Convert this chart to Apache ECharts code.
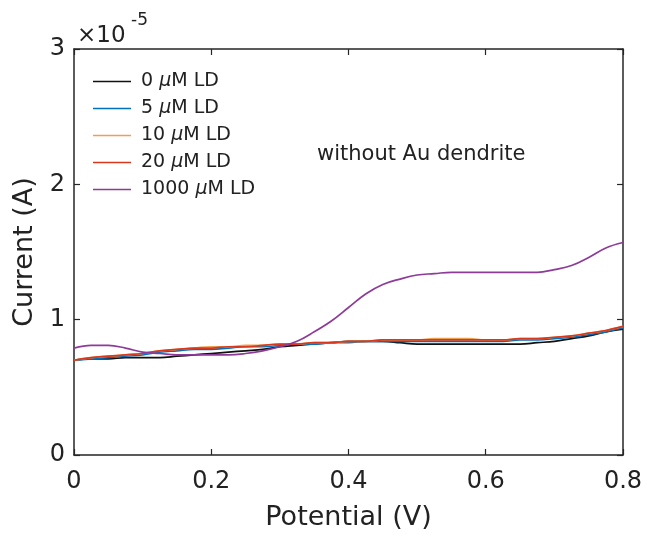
<!DOCTYPE html>
<html><head><meta charset="utf-8">
<script src="https://cdn.jsdelivr.net/npm/echarts@6/dist/echarts.min.js"></script>
<style>html,body{margin:0;padding:0;background:#fff}#c{width:647px;height:538px}</style>
</head><body><div id="c"></div>
<script>
const potential = [0,0.025,0.05,0.075,0.1,0.125,0.15,0.175,0.2,0.225,0.25,0.275,0.3,0.325,0.35,0.375,0.4,0.425,0.45,0.475,0.5,0.525,0.55,0.575,0.6,0.625,0.65,0.675,0.7,0.725,0.75,0.775,0.8];
const ld0 = [0.70,0.71,0.71,0.72,0.72,0.72,0.73,0.74,0.75,0.76,0.77,0.78,0.80,0.81,0.82,0.83,0.84,0.84,0.84,0.83,0.82,0.82,0.82,0.82,0.82,0.82,0.82,0.83,0.84,0.86,0.88,0.91,0.93];
const ld5 = [0.70,0.71,0.72,0.73,0.74,0.76,0.77,0.78,0.78,0.79,0.80,0.80,0.81,0.82,0.82,0.83,0.83,0.84,0.84,0.84,0.84,0.84,0.84,0.84,0.84,0.84,0.85,0.85,0.86,0.87,0.89,0.91,0.94];
const ld10 = [0.70,0.72,0.73,0.74,0.75,0.77,0.78,0.79,0.80,0.80,0.81,0.81,0.82,0.82,0.83,0.83,0.84,0.84,0.85,0.85,0.85,0.86,0.86,0.86,0.85,0.85,0.86,0.86,0.87,0.88,0.90,0.92,0.95];
const ld20 = [0.70,0.72,0.73,0.74,0.75,0.77,0.78,0.79,0.79,0.80,0.80,0.81,0.82,0.82,0.83,0.83,0.84,0.84,0.85,0.85,0.85,0.85,0.85,0.85,0.85,0.85,0.86,0.86,0.87,0.88,0.90,0.92,0.95];
const ld1000 = [0.79,0.81,0.81,0.79,0.76,0.75,0.74,0.74,0.74,0.74,0.75,0.77,0.80,0.84,0.91,0.99,1.09,1.19,1.26,1.30,1.33,1.34,1.35,1.35,1.35,1.35,1.35,1.35,1.37,1.40,1.46,1.53,1.57];
const seriesNames = ['0 μM LD','5 μM LD','10 μM LD','20 μM LD','1000 μM LD'];
const seriesColors = ['#111111','#0072BD','#EDA050','#D8381E','#8E3A99'];
const seriesData = [ld0, ld5, ld10, ld20, ld1000];
const xTicks = [0,0.2,0.4,0.6,0.8];
const yTicks = [0,1,2,3];

const font = 'DejaVu Sans, Liberation Sans, Arial, sans-serif';
const axisColor = '#262626';
const txt = '#222';
const chart = echarts.init(document.getElementById('c'), null, {renderer:'canvas'});
const mk = d => potential.map((x,i)=>[x,d[i]]);
const baseAxis = {
  axisLine:{show:true,onZero:false,lineStyle:{color:axisColor,width:1.5}},
  axisTick:{show:true,inside:true,length:6,lineStyle:{color:axisColor,width:1.2}},
  splitLine:{show:false}
};
chart.setOption({
  animation:false,
  grid:{left:74,right:24,top:49,bottom:83,containLabel:false},
  legend:{
    orient:'vertical',left:88,top:67,itemGap:8,itemWidth:38,itemHeight:14,
    icon:'path://M0,6 L38,6 L38,7.3 L0,7.3 Z',
    data:seriesNames,
    formatter:n=>{const p=n.split('μ');return p[0]+'{it|μ}'+p[1];},
    textStyle:{fontFamily:font,fontSize:19,color:txt,padding:[0,0,0,5],
      rich:{it:{fontFamily:font,fontSize:19,fontStyle:'italic',color:txt}}}
  },
  xAxis:[
    Object.assign({},baseAxis,{type:'value',min:0,max:0.8,interval:0.2,position:'bottom',
      name:'Potential (V)',nameLocation:'middle',nameGap:49,
      nameTextStyle:{fontFamily:font,fontSize:27,color:txt},
      axisLabel:{fontFamily:font,fontSize:24,color:txt,margin:15,
        formatter:v=>{const t=xTicks.find(k=>Math.abs(k-v)<1e-9);return t===0?'0':t.toFixed(1);}}}),
    Object.assign({},baseAxis,{type:'value',min:0,max:0.8,interval:0.2,position:'top',axisLabel:{show:false}})
  ],
  yAxis:[
    Object.assign({},baseAxis,{type:'value',min:0,max:3,interval:1,position:'left',
      name:'Current (A)',nameLocation:'middle',nameGap:35,
      nameTextStyle:{fontFamily:font,fontSize:27,color:txt},
      axisLabel:{fontFamily:font,fontSize:24,color:txt,margin:9,
        formatter:v=>String(yTicks.find(k=>Math.abs(k-v)<1e-9))}}),
    Object.assign({},baseAxis,{type:'value',min:0,max:3,interval:1,position:'right',axisLabel:{show:false}})
  ],
  graphic:[
    {type:'text',left:77,top:25,style:{text:'×10',fontFamily:font,fontSize:23,fill:txt}},
    {type:'text',left:131,top:12,style:{text:'-5',fontFamily:font,fontSize:17,fill:txt}},
    {type:'text',left:317,top:144,style:{text:'without Au dendrite',fontFamily:font,fontSize:21,fill:txt}}
  ],
  series:seriesNames.map((n,i)=>({
    name:n,type:'line',data:mk(seriesData[i]),smooth:0.4,symbol:'none',
    lineStyle:{color:seriesColors[i],width:1.7},itemStyle:{color:seriesColors[i]},z:2+i
  }))
});
</script></body></html>
